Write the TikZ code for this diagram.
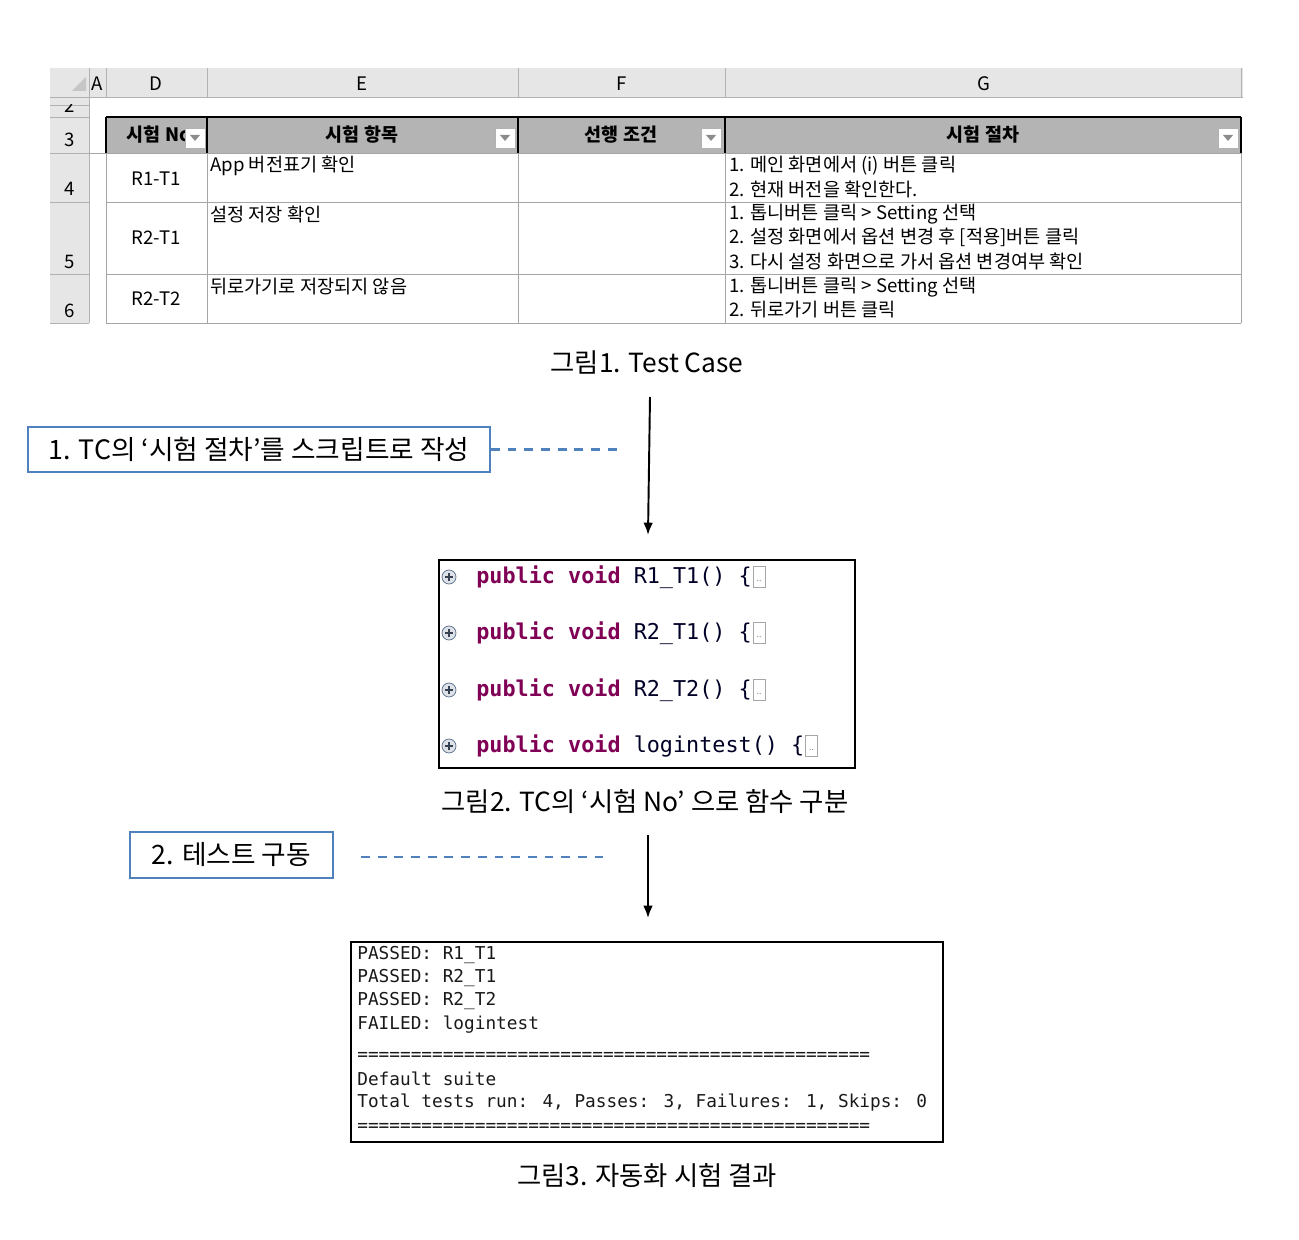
\documentclass[tikz,border=0pt]{standalone}
\usepackage{fontspec}
\setmainfont{Noto Sans CJK KR}
\newfontfamily\codefont{DejaVu Sans Mono}
\usetikzlibrary{positioning,arrows.meta}
\definecolor{boxblue}{HTML}{4F81BD}
\definecolor{kw}{HTML}{7F0055}
\definecolor{hdrgray}{HTML}{E6E6E6}
\definecolor{cellgray}{HTML}{B4B4B4}
\definecolor{iconblue}{HTML}{5A6E8C}
\tikzset{
  sheet/.style={inner sep=0pt, font=\fontsize{10.6}{12}\selectfont},
  head/.style={sheet, font=\fontsize{10.5}{12}\selectfont\bfseries},
  dropbtn/.style={draw=gray!60, fill=white, minimum size=0.4cm, inner sep=0pt},
  figcap/.style={font=\fontsize{15}{18}\selectfont},
  stepnote/.style={draw=boxblue, line width=1.2pt, inner sep=0pt, font=\fontsize{15.2}{18}\selectfont},
  guide/.style={draw=boxblue, line width=1.6pt, dash pattern=on 5pt off 4.5pt},
  codeline/.style={inner sep=0pt, text=black!85!blue, font=\codefont\fontsize{12.4}{14}\selectfont},
  foldbox/.style={draw=gray!70, minimum width=0.23cm, minimum height=0.42cm, inner sep=0pt,
    label={[font=\fontsize{5}{5}\selectfont, text=gray, inner sep=0pt, label distance=-4.5pt]south:..}},
  plusicon/.style={circle, draw=iconblue, fill=iconblue!20, minimum size=0.28cm, inner sep=0pt,
    path picture={\draw[line width=0.7pt, iconblue!60!black]
      ([xshift=1.5pt]path picture bounding box.west) -- ([xshift=-1.5pt]path picture bounding box.east)
      ([yshift=-1.5pt]path picture bounding box.north) -- ([yshift=1.5pt]path picture bounding box.south);}},
  resline/.style={inner sep=0pt, anchor=west, text=black!90, font=\codefont\fontsize{10.1}{12}\selectfont}
}
\newcommand\eqline{\foreach \k in {1,...,48}{=}}
\begin{document}
\begin{tikzpicture}[x=0.02cm,y=-0.02cm,>={Latex[length=7pt,width=5.5pt]}]
\useasboundingbox (0,0) rectangle (1299,1240);

% sheet frame
\fill[hdrgray] (50,68) rectangle (1243,97);
\fill[hdrgray] (50,97) rectangle (89,323);
\draw[gray!60] (50,97) -- (1243,97);
\foreach \x in {89,106,207,518,725,1241}
{
    \draw[gray!60] (\x,68) -- (\x,97);
}
\fill[gray!45] (72,91) -- (86,91) -- (86,77) -- cycle;
\foreach \x/\c in {97/A,156/D,362/E,622/F,984/G}
{
    \node[sheet] (col\c) at (\x,84) {\c};
}
\foreach \y in {105,117,153,202,274,323}
{
    \draw[gray!60] (50,\y) -- (89,\y);
}
\draw[gray!60] (89,97) -- (89,323);
\foreach \y/\n in {140/3,189/4,262/5,311/6}
{
    \node[sheet] (row\n) at (70,\y) {\n};
}
\begin{scope}
\clip (50,105) rectangle (89,117);
\node[sheet, anchor=base] (row2) at (70,113) {2};
\end{scope}

% header row
\fill[cellgray] (106,117) rectangle (1241,153);
\draw[gray!70] (89,153) -- (1241,153);
\foreach \x in {106,207,518,725,1241}
{
    \draw[gray!70] (\x,153) -- (\x,323);
    \draw[line width=1pt] (\x,117) -- (\x,153);
}
\draw[line width=1.2pt] (106,117) -- (1241,117);
\foreach \y in {202,274,323}
{
    \draw[gray!70] (106,\y) -- (1241,\y);
}
\foreach \x/\t/\n in {159/시험 No/hno,362/시험 항목/hitem,621/선행 조건/hpre,983/시험 절차/hproc}
{
    \node[head] (\n) at (\x,135) {\t};
}
\foreach \x in {195,505,711,1228}
{
    \node[dropbtn] (btn\x) at (\x,138) {};
    \fill[gray!90] (\x-5,135) -- (\x+5,135) -- (\x,141) -- cycle;
}

% rows
\foreach \y/\id/\n in {179/R1-T1/d4,238/R2-T1/d5,299/R2-T2/d6}
{
    \node[sheet] (\n) at (156,\y) {\id};
}
\foreach \y/\t/\n in {166/App 버전표기 확인/e4,214/설정 저장 확인/e5,287/뒤로가기로 저장되지 않음/e6}
{
    \node[sheet, anchor=west] (\n) at (210,\y) {\t};
}
\foreach \y/\t [count=\i] in {166/1. 메인 화면에서 (i) 버튼 클릭,189/2. 현재 버전을 확인한다.,
    214/1. 톱니버튼 클릭 > Setting 선택,237/2. 설정 화면에서 옵션 변경 후 [적용]버튼 클릭,
    261/3. 다시 설정 화면으로 가서 옵션 변경여부 확인,
    287/1. 톱니버튼 클릭 > Setting 선택,310/2. 뒤로가기 버튼 클릭}
{
    \node[sheet, anchor=west] (g\i) at (729,\y) {\t};
}

\node[figcap] (fig1) at (647,362) {그림1. Test Case};

% step 1
\coordinate (a1top) at (650,397);
\coordinate (a1tip) at (648,535);
\draw[->, line width=1.1pt] (a1top) -- (a1tip);
\node[stepnote, minimum width=9.24cm, minimum height=0.9cm] (step1) at (259,449.5) {1. TC의 ‘시험 절차’를 스크립트로 작성};
\coordinate (d1end) at (618,449.5);
\draw[guide] (step1.east) -- (d1end);

% functions
\node[draw, line width=1.1pt, minimum width=8.32cm, minimum height=4.16cm] (codebox) at (647,664) {};
\foreach \y/\f [count=\i] in {577/R1\_T1,633/R2\_T1,690/R2\_T2,746/logintest}
{
    \node[plusicon] (p\i) at (449,\y) {};
    \node[codeline, anchor=west] (c\i) at (476,\y) {\textcolor{kw}{\bfseries public void} \f() \{};
    \node[foldbox, right=0.5pt of c\i] (f\i) {};
}
\node[figcap] (fig2) at (645,802) {그림2. TC의 ‘시험 No’ 으로 함수 구분};

% step 2
\node[stepnote, minimum width=4.06cm, minimum height=0.92cm] (step2) at (231.5,855) {2. 테스트 구동};
\coordinate (d2end) at (604,857);
\draw[guide, shorten <=0.54cm] (step2.east |- d2end) -- (d2end);
\coordinate (a2top) at (648,835);
\coordinate (a2tip) at (648,918);
\draw[->, line width=1.1pt] (a2top) -- (a2tip);

% results
\node[draw, line width=1.1pt, minimum width=11.84cm, minimum height=4cm] (result) at (647,1042) {};
\foreach \y/\t [count=\i] in {955/PASSED: R1\_T1,978/PASSED: R2\_T1,1001/PASSED: R2\_T2,1025/FAILED: logintest,
    1056/\eqline,1079/Default suite,
    1103/{Total tests run: 4, Passes: 3, Failures: 1, Skips: 0},
    1127/\eqline}
{
    \node[resline] (r\i) at (357,\y) {\t};
}
\node[figcap] (fig3) at (647,1176) {그림3. 자동화 시험 결과};

\end{tikzpicture}
\end{document}
